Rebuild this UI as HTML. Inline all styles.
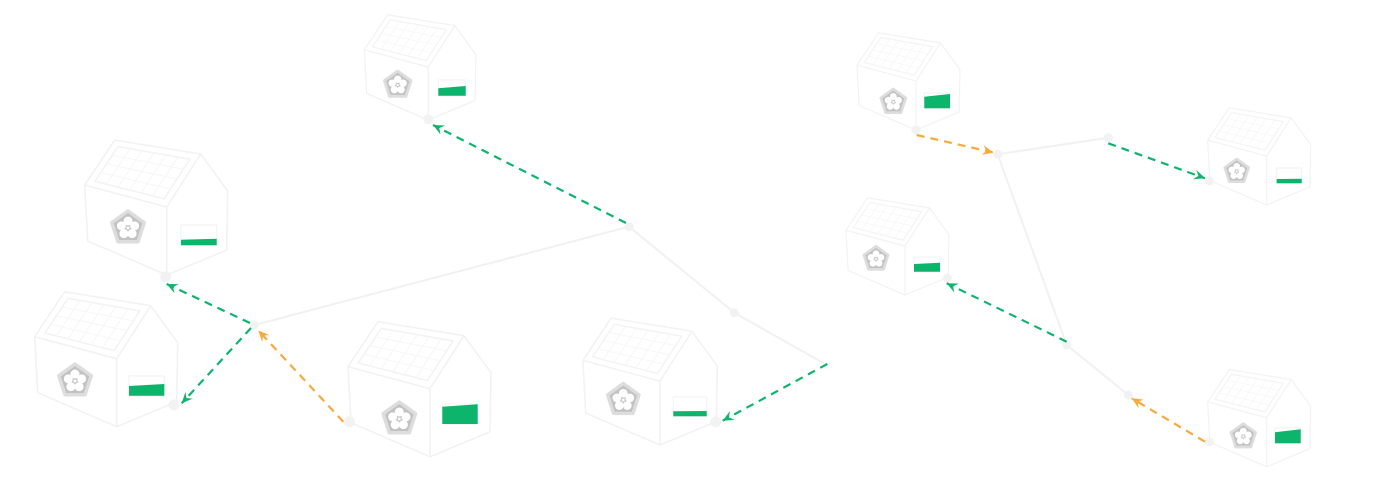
<!DOCTYPE html>
<html>
<head>
<meta charset="utf-8">
<style>
html,body{margin:0;padding:0;background:#fff;}
body{width:1400px;height:479px;overflow:hidden;font-family:"Liberation Sans",sans-serif;}
svg{display:block;}
</style>
</head>
<body>
<svg width="1400" height="479" viewBox="0 0 1400 479" xmlns="http://www.w3.org/2000/svg">
<defs>
  <g id="house" fill="none" stroke="#f2f2f2" stroke-width="1.6" stroke-linejoin="round">
    <polygon points="-82,-90 -52,-135 34,-121 61,-84 60,-25 0,0 -79,-34" fill="#fff"/>
    <polyline points="-82,-90 0,-68 34,-121"/>
    <line x1="0" y1="-68" x2="0" y2="0"/>
    <polygon points="-48.7,-128.4 23.1,-115.8 -2.6,-76.1 -71.8,-93.7" stroke="#f3f3f3"/>
    <g stroke="#f6f6f6" stroke-width="1">
      <line x1="-36.7" y1="-126.3" x2="-60.3" y2="-90.8"/>
      <line x1="-24.8" y1="-124.2" x2="-48.7" y2="-87.8"/>
      <line x1="-12.8" y1="-122.1" x2="-37.2" y2="-84.9"/>
      <line x1="-0.8" y1="-120.0" x2="-25.7" y2="-82.0"/>
      <line x1="11.1" y1="-117.9" x2="-14.1" y2="-79.0"/>
      <line x1="-54.5" y1="-119.7" x2="16.7" y2="-105.9"/>
      <line x1="-60.3" y1="-111.1" x2="10.3" y2="-96.0"/>
      <line x1="-66.0" y1="-102.4" x2="3.8" y2="-86.0"/>
    </g>
  </g>
  <g id="pent">
    <polygon points="0,-17 16.2,-5.3 10,13.8 -10,13.8 -16.2,-5.3" fill="#c2c2c2" stroke="#dddddd" stroke-width="3.5" stroke-linejoin="round"/>
    <g fill="#fff">
      <circle cx="0" cy="-7" r="4.5"/>
      <circle cx="6.66" cy="-2.16" r="4.5"/>
      <circle cx="4.11" cy="5.66" r="4.5"/>
      <circle cx="-4.11" cy="5.66" r="4.5"/>
      <circle cx="-6.66" cy="-2.16" r="4.5"/>
    </g>
    <circle cx="0" cy="0" r="1.8" fill="#fff" stroke="#cccccc" stroke-width="0.8"/>
  </g>
  <marker id="ag" viewBox="-12 -6 13 12" refX="0" refY="0" markerWidth="13" markerHeight="12" markerUnits="userSpaceOnUse" orient="auto">
    <path d="M0,0 L-11,-5 L-7,0 L-11,5 Z" fill="#0db46c"/>
  </marker>
  <marker id="ao" viewBox="-12 -6 13 12" refX="0" refY="0" markerWidth="13" markerHeight="12" markerUnits="userSpaceOnUse" orient="auto">
    <path d="M0,0 L-11,-5 L-7,0 L-11,5 Z" fill="#f8a93c"/>
  </marker>
</defs>

<!-- gray network lines -->
<g fill="none" stroke="#f1f1f1" stroke-width="2">
  <polyline points="254.3,325 629,226.7 734.3,312.7 826.7,365"/>
  <polyline points="1108.3,137.7 997.7,154.3 1066.7,345 1128.3,395"/>
</g>

<!-- houses -->
<use href="#house" transform="translate(428.3,120) scale(0.78)"/>
<use href="#house" transform="translate(166.7,275) scale(1)"/>
<use href="#house" transform="translate(116.7,426.7) scale(1)"/>
<use href="#house" transform="translate(430,456.7) scale(1)"/>
<use href="#house" transform="translate(660,445) scale(0.94)"/>
<use href="#house" transform="translate(916,130) scale(0.72)"/>
<use href="#house" transform="translate(905,295) scale(0.72)"/>
<use href="#house" transform="translate(1266.7,205) scale(0.72)"/>
<use href="#house" transform="translate(1266.7,466.7) scale(0.72)"/>

<!-- battery outlines -->
<g fill="none" stroke="#f3f3f3" stroke-width="1.2">
  <rect x="438.3" y="80" width="27.4" height="15.7"/>
  <rect x="181" y="225" width="35.7" height="20"/>
  <rect x="129" y="376" width="35.3" height="20"/>
  <rect x="442.3" y="404" width="35.4" height="20"/>
  <rect x="673.3" y="397" width="33.4" height="19.3"/>
  <rect x="924.3" y="93" width="25.7" height="15.3"/>
  <rect x="914" y="257" width="26" height="14.7"/>
  <rect x="1276.7" y="168" width="25" height="15.3"/>
  <rect x="1275" y="428" width="25.7" height="15.3"/>
</g>

<!-- green bars -->
<g fill="#0db46c">
  <polygon points="438.3,88.3 465.7,86 465.7,95.7 438.3,95.7"/>
  <polygon points="181,239.8 216.7,238.8 216.7,245.2 181,245.2"/>
  <polygon points="129,386 164.3,384 164.3,395.7 129,395.7"/>
  <polygon points="442.3,406.7 477.7,404.3 477.7,424 442.3,424"/>
  <polygon points="673.3,411.3 706.7,411 706.7,416.3 673.3,416.3"/>
  <polygon points="924.3,96.7 950,94 950,108.3 924.3,108.3"/>
  <polygon points="914,264 940,262.7 940,271.7 914,271.7"/>
  <polygon points="1276.7,179 1301.7,178.7 1301.7,183.3 1276.7,183.3"/>
  <polygon points="1275,432.3 1300.7,429.3 1300.7,443.3 1275,443.3"/>
</g>

<!-- pentagon icons -->
<use href="#pent" transform="translate(397.7,85) scale(0.82)"/>
<use href="#pent" transform="translate(128,228) scale(1)"/>
<use href="#pent" transform="translate(75,381) scale(1)"/>
<use href="#pent" transform="translate(399.3,419) scale(1)"/>
<use href="#pent" transform="translate(623.3,400) scale(0.97)"/>
<use href="#pent" transform="translate(893.3,102) scale(0.77)"/>
<use href="#pent" transform="translate(876,259) scale(0.75)"/>
<use href="#pent" transform="translate(1236.7,171.5) scale(0.74)"/>
<use href="#pent" transform="translate(1243.3,436.5) scale(0.76)"/>

<!-- node dots -->
<g fill="#f2f2f2">
  <circle cx="629" cy="226.7" r="4.5"/>
  <circle cx="254.3" cy="325" r="4.5"/>
  <circle cx="734.3" cy="312.7" r="4.5"/>
  <circle cx="997.7" cy="154.3" r="4.5"/>
  <circle cx="1108.3" cy="137.7" r="4.5"/>
  <circle cx="1066.7" cy="345" r="4.5"/>
  <circle cx="1128.3" cy="395" r="4.5"/>
  <circle cx="428.3" cy="119.3" r="5"/>
  <circle cx="165.7" cy="276.7" r="5.5"/>
  <circle cx="174" cy="405" r="5.5"/>
  <circle cx="349.3" cy="421.7" r="5.5"/>
  <circle cx="715.7" cy="421.7" r="5.5"/>
  <circle cx="916" cy="130" r="4.5"/>
  <circle cx="947.3" cy="278.3" r="4.5"/>
  <circle cx="1209.3" cy="180.7" r="4.5"/>
  <circle cx="1209.3" cy="441.7" r="4.5"/>
</g>

<!-- dashed arrows -->
<g fill="none" stroke-width="2.2" stroke-dasharray="8 6">
  <line x1="626" y1="223" x2="433" y2="125" stroke="#0db46c" marker-end="url(#ag)"/>
  <line x1="250" y1="323" x2="166.7" y2="284" stroke="#0db46c" marker-end="url(#ag)"/>
  <line x1="251" y1="328" x2="181.7" y2="403.3" stroke="#0db46c" marker-end="url(#ag)"/>
  <line x1="343.3" y1="421.7" x2="258.3" y2="330.5" stroke="#f8a93c" marker-end="url(#ao)"/>
  <line x1="827.3" y1="364" x2="722.7" y2="420.7" stroke="#0db46c" marker-end="url(#ag)"/>
  <line x1="916.7" y1="135" x2="993.3" y2="152.5" stroke="#f8a93c" marker-end="url(#ao)"/>
  <line x1="1108.3" y1="143.3" x2="1205" y2="178.3" stroke="#0db46c" marker-end="url(#ag)"/>
  <line x1="1066.7" y1="341.7" x2="946.7" y2="283.3" stroke="#0db46c" marker-end="url(#ag)"/>
  <line x1="1205" y1="441.7" x2="1131.7" y2="398.3" stroke="#f8a93c" marker-end="url(#ao)"/>
</g>
</svg>
</body>
</html>
